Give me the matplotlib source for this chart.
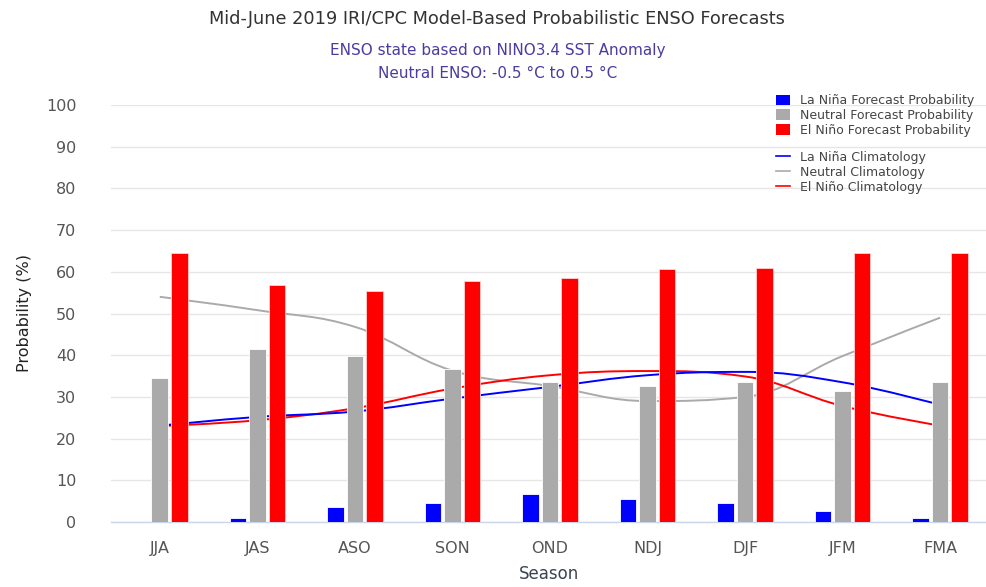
import numpy as np
import matplotlib
matplotlib.use("Agg")
import matplotlib.pyplot as plt
from matplotlib.path import Path
from matplotlib.patches import PathPatch
from matplotlib.lines import Line2D
from matplotlib.patches import Patch

seasons = ["JJA", "JAS", "ASO", "SON", "OND", "NDJ", "DJF", "JFM", "FMA"]
lanina_prob = [0, 0.9, 3.7, 4.5, 6.8, 5.6, 4.6, 2.6, 0.9]
neutral_prob = [34.5, 41.6, 39.7, 36.7, 33.6, 32.7, 33.6, 31.4, 33.6]
elnino_prob = [64.5, 56.8, 55.5, 57.8, 58.6, 60.7, 60.8, 64.5, 64.5]
lanina_clim = [23.1, 25.2, 26.5, 29.6, 32.4, 35.2, 36.0, 33.5, 28.1]
neutral_clim = [54.0, 50.8, 46.8, 36.3, 32.6, 29.0, 30.0, 39.8, 49.0]
elnino_clim = [23.0, 24.4, 27.3, 32.0, 35.2, 36.2, 34.9, 27.8, 23.1]

plt.rcParams['font.family'] = ['DejaVu Sans']

fig = plt.figure(figsize=(9.86, 5.87), dpi=100)
ax = fig.add_axes([111/986, 65/587, (986-111)/986, (522-105)/587])

x = np.arange(len(seasons))
w = 0.17
off = 0.2
ax.bar(x - off, lanina_prob, w, color="#0000ff", edgecolor="white", linewidth=0.6, zorder=3)
ax.bar(x, neutral_prob, w, color="#aaaaaa", edgecolor="white", linewidth=0.6, zorder=3)
ax.bar(x + off, elnino_prob, w, color="#ff0000", edgecolor="#ffd0d0", linewidth=0.6, zorder=3)


def spline_path(xs, ys, smoothing=1.5):
    xs = list(map(float, xs)); ys = list(map(float, ys))
    n = len(xs)
    denom = smoothing + 1
    lefts = [None] * n
    rights = [None] * n
    for i in range(n):
        if i == 0 or i == n - 1:
            lefts[i] = (xs[i], ys[i]); rights[i] = (xs[i], ys[i]); continue
        lx, ly = xs[i-1], ys[i-1]
        px, py = xs[i], ys[i]
        nx, ny = xs[i+1], ys[i+1]
        lcx = (smoothing * px + lx) / denom
        lcy = (smoothing * py + ly) / denom
        rcx = (smoothing * px + nx) / denom
        rcy = (smoothing * py + ny) / denom
        corr = ((rcy - lcy) * (rcx - px)) / (rcx - lcx) + py - rcy
        lcy += corr; rcy += corr
        if lcy > ly and lcy > py:
            lcy = max(ly, py); rcy = 2 * py - lcy
        elif lcy < ly and lcy < py:
            lcy = min(ly, py); rcy = 2 * py - lcy
        if rcy > ny and rcy > py:
            rcy = max(ny, py); lcy = 2 * py - rcy
        elif rcy < ny and rcy < py:
            rcy = min(ny, py); lcy = 2 * py - rcy
        lefts[i] = (lcx, lcy); rights[i] = (rcx, rcy)
    verts = [(xs[0], ys[0])]
    codes = [Path.MOVETO]
    for i in range(1, n):
        verts += [rights[i-1], lefts[i], (xs[i], ys[i])]
        codes += [Path.CURVE4] * 3
    return Path(verts, codes)

for vals, col in [(neutral_clim, "#aaaaaa"), (elnino_clim, "#ff0000"), (lanina_clim, "#0000ff")]:
    ax.add_patch(PathPatch(spline_path(x, vals), facecolor="none", edgecolor=col, lw=1.4, zorder=2))

ax.set_xlim(-0.5, 8.47)
ax.set_ylim(0, 100)
ax.set_yticks(np.arange(0, 101, 10))
ax.yaxis.grid(True, color="#e6e6e6", lw=1, zorder=0)
ax.set_axisbelow(True)
for s in ["top", "right", "left"]:
    ax.spines[s].set_visible(False)
ax.spines["bottom"].set_color("#ccd6eb")
ax.spines["bottom"].set_linewidth(1)
ax.set_xticks(x)
ax.set_xticklabels(seasons)
ax.tick_params(axis="both", length=0, labelsize=11.5, labelcolor="#555555")
ax.tick_params(axis="x", pad=14)
ax.tick_params(axis="y", pad=25)
ax.set_xlabel("Season", fontsize=12, color="#3a4550", labelpad=6)
ax.set_ylabel("Probability (%)", fontsize=11.5, color="#222222", labelpad=10)

fig.text(0.504, 0.968, "Mid-June 2019 IRI/CPC Model-Based Probabilistic ENSO Forecasts",
         ha="center", va="center", fontsize=12.8, color="#333333")
fig.text(0.505, 0.914, "ENSO state based on NINO3.4 SST Anomaly",
         ha="center", va="center", fontsize=11, color="#4b3ca0")
fig.text(0.505, 0.875, "Neutral ENSO: -0.5 °C to 0.5 °C",
         ha="center", va="center", fontsize=11, color="#4b3ca0")

bar_handles = [
    Patch(facecolor="#0000ff", label="La Niña Forecast Probability"),
    Patch(facecolor="#aaaaaa", label="Neutral Forecast Probability"),
    Patch(facecolor="#ff0000", label="El Niño Forecast Probability"),
]
line_handles = [
    Line2D([], [], color="#0000ff", lw=1.2, label="La Niña Climatology"),
    Line2D([], [], color="#aaaaaa", lw=1.2, label="Neutral Climatology"),
    Line2D([], [], color="#ff0000", lw=1.2, label="El Niño Climatology"),
]
kw = dict(loc="upper left", frameon=False, fontsize=9.0, labelcolor="#444444",
          handlelength=1.1, handleheight=0.9, labelspacing=0.15, handletextpad=0.8,
          borderaxespad=0, borderpad=0)
leg1 = fig.legend(handles=bar_handles, bbox_to_anchor=(776/986, 1 - 94/587), **kw)
leg2 = fig.legend(handles=line_handles, bbox_to_anchor=(776/986, 1 - 151/587), **kw)

fig.savefig("out.png", dpi=100, facecolor="white")
